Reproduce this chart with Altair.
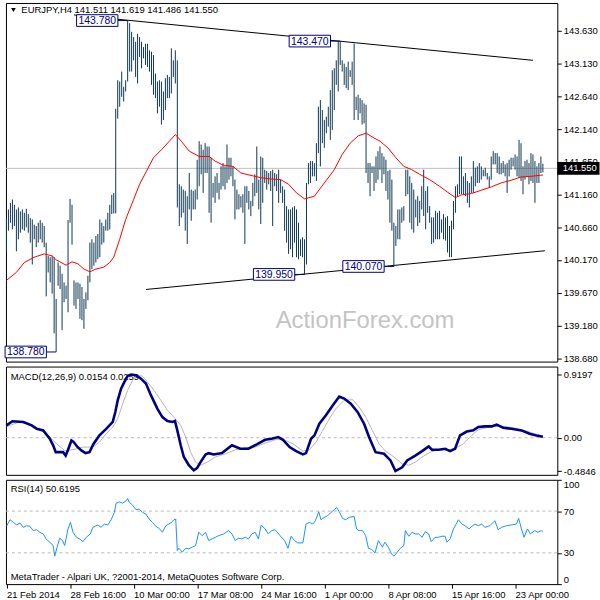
import altair as alt
import pandas as pd

# ---------------- data ----------------
HIGH = [
    140.80, 140.93, 141.03, 141.08, 141.00, 140.93, 140.96, 140.90, 140.93, 140.88,
    140.94, 140.86, 140.80, 140.78, 140.70, 140.68, 140.73, 140.77, 140.73, 140.68,
    140.43, 140.23, 140.21, 140.23, 140.21, 139.58, 140.13, 140.08, 139.96, 139.83,
    139.78, 140.77, 141.09, 141.00, 139.86, 139.83, 139.83, 139.81, 139.76, 139.58,
    139.68, 139.93, 140.43, 140.48, 140.43, 140.53, 140.56, 140.78, 140.73, 140.68,
    140.78, 140.88, 141.00, 141.15, 141.18, 142.45, 142.88, 142.86, 143.01, 142.78,
    142.88, 143.78, 143.74, 143.61, 143.53, 143.46, 143.58, 143.53, 143.46, 143.38,
    143.43, 143.43, 143.33, 143.31, 143.26, 142.98, 142.86, 142.88, 142.86, 142.71,
    142.91, 142.96, 142.93, 143.36, 143.18, 143.33, 143.18, 141.31, 141.28, 141.23,
    141.21, 141.13, 141.48, 141.23, 141.21, 141.23, 141.68, 141.96, 141.91, 141.83,
    141.93, 141.88, 141.88, 141.71, 141.33, 141.43, 141.48, 141.33, 141.58, 141.63,
    141.58, 141.91, 141.71, 141.71, 141.58, 141.38, 141.23, 141.16, 141.13, 141.16,
    141.28, 141.28, 141.21, 141.06, 141.33, 141.46, 141.88, 141.38, 141.73, 141.71,
    141.53, 141.51, 141.48, 141.51, 141.53, 141.48, 141.46, 141.53, 141.38, 141.28,
    141.23, 140.98, 140.93, 140.93, 140.96, 140.98, 140.93, 140.73, 140.48, 140.51,
    140.48, 141.33, 141.63, 141.66, 141.66, 141.63, 141.93, 142.48, 142.58, 142.43,
    142.28, 142.33, 142.48, 142.73, 143.03, 143.06, 143.18, 143.47, 143.47, 143.18,
    143.13, 143.08, 143.16, 143.03, 143.16, 143.43, 142.63, 142.66, 142.61, 142.58,
    142.53, 142.51, 141.63, 141.63, 141.58, 141.58, 141.73, 141.81, 141.88, 141.78,
    141.73, 141.68, 141.51, 141.53, 141.38, 140.73, 140.68, 140.93, 140.93, 140.96,
    140.98, 141.53, 141.53, 141.43, 141.33, 141.23, 141.08, 141.13, 141.06, 141.28,
    141.53, 141.21, 141.28, 140.98, 140.81, 140.81, 140.91, 140.88, 140.91, 140.78,
    140.86, 140.81, 140.83, 140.68, 140.76, 141.06, 141.28, 141.31, 141.73, 141.73,
    141.43, 141.48, 141.36, 141.33, 141.43, 141.66, 141.56, 141.58, 141.63, 141.58,
    141.53, 141.56, 141.48, 141.43, 141.73, 141.81, 141.78, 141.78, 141.73, 141.63,
    141.66, 141.61, 141.63, 141.68, 141.71, 141.71, 141.76, 141.73, 141.98, 141.93,
    141.58, 141.66, 141.68, 141.63, 141.78, 141.76, 141.66, 141.58, 141.63, 141.73, 141.62,
]
LOW = [
    140.30, 140.61, 140.73, 140.63, 140.68, 140.30, 140.48, 140.58, 140.63, 140.61,
    140.66, 140.58, 140.43, 140.10, 140.48, 140.36, 140.43, 140.48, 140.43, 140.36,
    139.62, 139.98, 139.83, 139.66, 139.06, 138.78, 139.78, 139.73, 139.11, 139.53,
    139.58, 139.38, 140.73, 140.40, 139.48, 139.43, 139.58, 139.28, 139.26, 139.13,
    139.43, 139.56, 139.83, 140.03, 140.08, 140.13, 140.18, 140.21, 140.40, 140.43,
    140.61, 140.61, 140.63, 140.86, 140.87, 140.87, 142.30, 142.48, 142.63, 142.56,
    142.71, 142.86, 143.01, 143.01, 143.18, 142.93, 142.83, 143.23, 143.06, 143.21,
    143.11, 143.08, 143.01, 142.81, 142.66, 142.61, 142.38, 142.48, 142.21, 142.28,
    142.43, 142.61, 142.61, 142.68, 142.93, 142.83, 140.96, 140.68, 140.81, 140.88,
    140.61, 140.41, 140.93, 140.76, 140.93, 140.93, 141.08, 141.28, 141.46, 141.18,
    141.48, 141.48, 140.88, 140.73, 141.11, 141.03, 141.18, 141.08, 141.23, 141.28,
    141.23, 141.33, 141.38, 141.43, 141.28, 140.78, 140.93, 140.93, 140.96, 140.88,
    140.41, 141.03, 140.93, 140.83, 140.98, 141.13, 141.18, 140.93, 140.71, 141.03,
    141.33, 141.23, 141.31, 141.21, 140.68, 141.28, 141.21, 141.03, 141.18, 141.03,
    140.61, 140.43, 140.26, 140.33, 140.21, 140.43, 140.21, 140.18, 140.23, 140.21,
    139.95, 140.10, 141.31, 141.33, 141.43, 141.43, 141.36, 141.78, 141.58, 141.93,
    141.86, 142.08, 142.18, 141.98, 142.13, 142.43, 142.81, 142.71, 143.11, 143.01,
    142.81, 142.76, 142.73, 142.93, 142.81, 142.28, 142.43, 142.28, 142.38, 142.21,
    142.23, 141.48, 141.33, 141.13, 141.48, 141.21, 141.33, 141.38, 141.53, 141.33,
    141.46, 141.21, 141.08, 140.73, 140.61, 140.07, 140.38, 140.48, 140.48, 140.73,
    140.76, 141.13, 141.16, 140.73, 140.63, 140.58, 140.81, 140.68, 140.73, 140.93,
    140.83, 140.63, 140.88, 140.73, 140.41, 140.43, 140.48, 140.48, 140.48, 140.58,
    140.48, 140.46, 140.28, 140.21, 140.21, 140.63, 140.88, 141.13, 141.16, 141.16,
    141.16, 141.13, 141.03, 140.96, 141.18, 141.18, 141.28, 141.33, 141.33, 141.38,
    141.43, 141.43, 141.38, 141.26, 141.38, 141.61, 141.61, 141.48, 141.46, 141.46,
    141.48, 141.43, 141.18, 141.43, 141.53, 141.58, 141.53, 141.43, 141.41, 141.36,
    141.16, 141.38, 141.43, 141.31, 141.36, 141.33, 141.03, 141.33, 141.33, 141.48, 141.49,
]
LAST_OHLC = [141.511, 141.619, 141.486, 141.550]

MA_IDX = [0, 5, 9, 14, 19, 23, 25, 30, 33, 36, 39, 42, 45, 49, 52, 54, 57, 60, 64, 67,
          70, 74, 78, 82, 85, 88, 92, 97, 102, 105, 109, 114, 118, 125, 128, 133, 138, 142, 146, 150,
          155, 160, 165, 169, 173, 177, 181, 185, 188, 192, 196, 200, 204, 208, 213, 218, 222, 226, 229, 234,
          239, 244, 249, 254, 259, 264, 270]
MA_VAL = [139.86, 139.98, 140.13, 140.21, 140.26, 140.23, 140.17, 140.09, 140.14, 140.11,
          140.03, 139.99, 140.03, 140.06, 140.13, 140.21, 140.48, 140.78, 141.08, 141.31,
          141.48, 141.71, 141.83, 141.96, 142.06, 141.96, 141.81, 141.73, 141.73, 141.66,
          141.60, 141.58, 141.48, 141.43, 141.41, 141.39, 141.38, 141.31, 141.18, 141.09,
          141.13, 141.33, 141.53, 141.76, 141.93, 142.04, 142.08, 142.01, 141.96, 141.86,
          141.71, 141.58, 141.53, 141.46, 141.38, 141.28, 141.19, 141.11, 141.15, 141.17,
          141.22, 141.27, 141.33, 141.37, 141.42, 141.43, 141.45]

# trendlines: [start bar, start price, end bar, end price]
UPPER_LINE = [34, 143.865, 265, 143.18]
LOWER_LINE = [70.2, 139.723, 271, 140.307]

# price labels and the bar each one points to
LABEL_TEXT = ["143.780", "143.470", "139.950", "140.070", "138.780"]
LABEL_PRICE = [143.78, 143.47, 139.95, 140.07, 138.78]
LABEL_BAR = [61, 168, 150, 195, 25]

MACD_IDX = [0, 3, 8.5, 12.7, 15.2, 18.5, 21.8, 23.5, 24.8, 26.8,
            28.5, 29.8, 31, 32.7, 33.8, 35.5, 37.7, 39.8, 41.8, 43.8,
            46.8, 50.2, 53.5, 54.8, 56, 57.7, 59.3, 61, 62.7, 65.2,
            67.7, 70.2, 72.7, 76, 78.5, 81, 83.5, 84.8, 86, 87.7,
            89.3, 91.8, 94.3, 96, 97.7, 100.2, 101.8, 104.3, 108.5, 113.5,
            117.7, 121.8, 126, 130.2, 133.5, 136.8,
            139.2, 142.5, 145.8, 149.2, 150.8, 153.3, 155, 157.5, 160.8, 164.2,
            167.5, 170, 173.3, 176.7, 180, 182.5, 185.8, 190, 193.3, 195.8,
            199.2, 201.7, 205.8, 209.2, 212.5, 214.2, 217.5, 220.8, 223.3, 225.8,
            228.3, 231.7, 235, 237.5, 240.8, 244.2, 246.7, 250, 254.2, 259.2,
            263.3, 266.7, 270]
MACD_VAL = [0.18, 0.24, 0.23, 0.18, 0.13, 0.107, -0.015, -0.11, -0.21, -0.21,
            -0.21, -0.26, -0.175, -0.04, -0.06, -0.127, -0.185, -0.224, -0.21, -0.09,
            0.034, 0.13, 0.23, 0.375, 0.545, 0.715, 0.81, 0.90, 0.9197, 0.91,
            0.86, 0.79, 0.62, 0.42, 0.30, 0.243, 0.23, 0.243, 0.107, -0.11,
            -0.28, -0.40, -0.475, -0.44, -0.355, -0.243, -0.224, -0.243, -0.224, -0.11,
            -0.16, -0.16, -0.097, -0.03, -0.015, 0.01,
            -0.03, -0.136, -0.195, -0.243, -0.224, -0.015, 0.034, 0.204, 0.326, 0.47,
            0.60, 0.57, 0.496, 0.375, 0.204, 0.01, -0.21, -0.234, -0.33, -0.4846,
            -0.43, -0.33, -0.26, -0.195, -0.127, -0.175, -0.175, -0.16, -0.195, -0.16,
            0.034, 0.09, 0.107, 0.156, 0.165, 0.165, 0.19, 0.146, 0.13, 0.107,
            0.058, 0.034, 0.0154]
SIG_IDX = [0.2, 6.8, 13.5, 20.2, 25.2, 29.3, 33.5, 38.5, 43.5, 46.8,
           50.2, 53.5, 56, 58.5, 61, 63.5, 66, 68.5, 71, 74.3,
           77.7, 81, 84.3, 87.7, 90.2, 92.7, 95.2, 97.7, 101, 105.2,
           110.2, 115.2, 120.2, 125.2, 130.2, 135.2, 138.5,
           144.2, 149.2, 152.5, 155.8, 159.2, 162.5, 165.8, 170, 174.2, 177.5,
           180.8, 184.2, 187.5, 190.8, 195, 199.2, 202.5, 205.8, 209.2, 213.3,
           217.5, 222.5, 225.8, 230, 234.2, 237.5, 241.7, 245.8, 250.8, 255.8,
           260.8, 265.8, 270]
SIG_VAL = [0.165, 0.23, 0.18, 0.058, -0.088, -0.185, -0.175, -0.136, -0.136, -0.063,
           0.058, 0.156, 0.277, 0.496, 0.69, 0.837, 0.91, 0.895, 0.81, 0.69,
           0.545, 0.40, 0.30, 0.18, 0.01, -0.21, -0.355, -0.40, -0.355, -0.28,
           -0.234, -0.175, -0.146, -0.136, -0.078, -0.03, -0.015,
           -0.088, -0.195, -0.175, -0.063, 0.107, 0.277, 0.423, 0.545, 0.555, 0.448,
           0.30, 0.107, -0.088, -0.195, -0.28, -0.38, -0.40, -0.355, -0.28, -0.21,
           -0.175, -0.175, -0.16, -0.088, 0.034, 0.117, 0.146, 0.165, 0.165, 0.14,
           0.107, 0.058, 0.0259]

RSI_IDX = [0.2, 1.8, 3.5, 5.2, 6.8, 8.5, 10.2, 11.8, 13.5, 15.2, 16.8, 18.5, 20.2, 21.8, 23.5,
           24.3, 25.5, 26.8, 28.2, 29.3, 31, 32.2, 33.5, 35.2, 36.8, 38.5, 40.2, 42.2, 43.5, 46,
           47.7, 49.2, 51, 52.7, 54.3, 55.2, 56.8, 58.5, 60.2, 61, 61.8, 63.5, 65.2, 66.8, 68.5,
           70.2, 71.8, 73.5, 75.2, 76.8, 78.5, 80.2, 82.7, 84.3, 85.2, 86, 86.8, 88.5, 90.2, 91.8,
           93.5, 95.2, 96.8, 98.5, 100.2, 101.8, 103.5, 105.2, 106.8, 109.3, 111.8, 113.5, 115.2,
           116.8, 118.5, 120.2, 121.8, 123.5, 125.2, 126.8, 128.2, 130.2, 131.8, 133.5, 135.2, 137.7,
           140, 141.7, 143.3, 145, 146.7, 149.2, 150.8, 152.5, 154.2, 155.5,
           157.2, 158.3, 160, 161.7, 163.3, 165, 166.2, 167.5, 169.2, 170.8,
           172.5, 175, 176.2, 177.5, 179.2, 180.8, 182.2, 183.8, 185.5, 187.2,
           189.2, 190.5, 192.2, 193.8, 195, 196.7, 198.3, 200, 200.8, 202.5,
           204.2, 205.8, 207.5, 209.2, 210.8, 212.5, 213.8, 215.8, 217.5, 219.2,
           220.8, 221.7, 223.3, 225, 227.5, 229.2, 230.8, 232.8, 234.2, 235.8,
           237.5, 239.2, 240.8, 243.3, 245.8, 247.5, 249.2, 251.7, 254.2, 256.7,
           257.8, 259.2, 260.5, 262.2, 263.8, 265.8, 267.5, 269.2, 270]
RSI_VAL = [56, 61.7, 59.2, 56.7, 58.6, 54.4, 56, 55.4, 51.3, 52.2, 49.7, 48.1, 42.7, 40.2, 37,
           26.8, 35.4, 44, 41.7, 37, 52.9, 59.2, 49.7, 44.9, 43.3, 40.8, 44.9, 48.1, 54.4, 56.7,
           54.4, 57.6, 56.7, 61.7, 68.7, 77.6, 78.9, 77.6, 79.8, 82.1, 78.3, 75.7, 71.3, 71.9, 68.7,
           67.1, 62.4, 59.2, 55.4, 53.5, 49.7, 56, 58.6, 61.7, 62.4, 32.2, 34.4, 30.6, 34.4, 33.8,
           35.4, 37, 49.7, 46.5, 49.7, 41.7, 43.3, 44.9, 46.5, 48.1, 51.3, 48.1, 41.7,
           44, 43.3, 44.9, 43.3, 48.1, 49.7, 43.3, 56.7, 52.9, 48.1, 51.3, 52.2, 46.5,
           41.7, 34.4, 45.9, 41.7, 39.5, 39.5, 57.6, 59.2, 57.6, 60.8,
           69.4, 61.7, 64, 65.6, 68.7, 71.3, 73.5, 69.4, 63, 61.7,
           64, 64.9, 52.9, 51.3, 51.3, 46.5, 34.4, 33.2, 30, 41.7,
           35.4, 40.2, 35.4, 29, 26.8, 30.6, 34.4, 37, 51.3, 45.9,
           49.7, 48.1, 48.1, 44.9, 50.3, 48.1, 40.8, 44.9, 44.9, 45.9,
           45.9, 40.2, 43.3, 52.9, 61.7, 57.6, 56, 52.9, 55.4, 57.6,
           56, 57.6, 54.4, 56, 60.8, 52.2, 54.4, 56, 56.7, 57.6,
           63, 52.9, 44.9, 52.9, 48.1, 51.3, 49.7, 51.3, 50.6195]

PRICE_TICKS = [143.630, 143.130, 142.640, 142.140, 141.650, 141.160, 140.660,
               140.170, 139.670, 139.180, 138.680]
MACD_TICKS = [0.9197, 0.0, -0.4846]
RSI_TICKS = [0, 30, 70, 100]
RSI_LEVELS = [30, 70]
X_TICKS = [0, 32, 64, 96, 128, 160, 192, 224, 256]
X_LABELS = ["21 Feb 2014", "28 Feb 16:00", "10 Mar 00:00", "17 Mar 08:00",
            "24 Mar 16:00", "1 Apr 00:00", "8 Apr 08:00", "15 Apr 16:00", "23 Apr 00:00"]

# ---------------- styling ----------------
FONT = "Liberation Sans"
FS = 9.5
BAR_COLOR = "#0e3754"
NAVY = "#000080"
W = 555
H_MAIN, H_MACD, H_RSI = 361, 109, 105

bars = pd.DataFrame({"i": list(range(len(HIGH))), "high": HIGH, "low": LOW})
ma = pd.DataFrame({"i": MA_IDX, "v": MA_VAL})
tl = pd.DataFrame([UPPER_LINE, LOWER_LINE], columns=["i", "p", "i2", "p2"])
half_w, half_h, off = 10.4, 0.088, 15.3
lab = pd.DataFrame({
    "text": LABEL_TEXT,
    "p": LABEL_PRICE,
    "bar": LABEL_BAR,
})
lab["cx"] = lab["bar"] - off
lab["x1"] = lab["cx"] - half_w
lab["x2"] = lab["cx"] + half_w
lab["y1"] = lab["p"] - half_h
lab["y2"] = lab["p"] + half_h
close_df = pd.DataFrame({"p": [LAST_OHLC[3]], "t": [f"{LAST_OHLC[3]:.3f}"],
                         "y1": [LAST_OHLC[3] - 0.095], "y2": [LAST_OHLC[3] + 0.095]})

XS = alt.Scale(domain=[-0.25, 277.25], nice=False, zero=False)
PS = alt.Scale(domain=[138.635, 144.045], nice=False, zero=False)
MS = alt.Scale(domain=[-0.540, 1.036], nice=False, zero=False)
RS = alt.Scale(domain=[0, 100], nice=False, zero=False)

axis_common = dict(title=None, grid=False, domain=False, tickSize=4, tickColor="black",
                   labelColor="black", labelFont=FONT, labelFontSize=FS)
price_axis = alt.Axis(orient="right", values=PRICE_TICKS, format=".3f", labelPadding=2, **axis_common)
macd_axis = alt.Axis(orient="right", values=MACD_TICKS, labelPadding=2,
                     labelExpr="datum.value == 0 ? '0.00' : (datum.value < 0 ? '-' + format(-datum.value, '.4f') : format(datum.value, '.4f'))",
                     **axis_common)
rsi_axis = alt.Axis(orient="right", values=RSI_TICKS, format="d", labelPadding=2, labelFlush=True, **axis_common)
x_expr = "[" + ",".join("'" + s + "'" for s in X_LABELS) + "][round(datum.value / 32)]"
x_axis = alt.Axis(orient="bottom", values=X_TICKS, labelExpr=x_expr, labelAlign="left",
                  labelFlush=False, labelOverlap=False, labelPadding=1, **axis_common)

XN = alt.X("i:Q", scale=XS, axis=None)

def PY(field):
    return alt.Y(field, scale=PS, axis=price_axis)

# ---------------- main price panel ----------------
watermark = alt.Chart(pd.DataFrame({"t": ["ActionForex.com"]})).mark_text(
    font=FONT, fontSize=24, color="#c4c4c4", align="center", baseline="alphabetic"
).encode(x=alt.value(361.5), y=alt.value(327), text="t:N")

trend = alt.Chart(tl).mark_rule(color="black", strokeWidth=1).encode(
    x=XN, y=PY("p:Q"), x2="i2:Q", y2="p2:Q")

close_line = alt.Chart(close_df).mark_rule(color="#c0c0c0", strokeWidth=1).encode(y=PY("p:Q"))

bar_marks = alt.Chart(bars).mark_rule(color=BAR_COLOR, strokeWidth=1).encode(
    x=XN, y=PY("low:Q"), y2="high:Q")

ma_line = alt.Chart(ma).mark_line(color="#ff0000", strokeWidth=1).encode(x=XN, y=PY("v:Q"))

leaders = alt.Chart(lab).mark_rule(color=NAVY, strokeWidth=1).encode(
    x=alt.X("x2:Q", scale=XS, axis=None), x2="bar:Q", y=PY("p:Q"))
boxes = alt.Chart(lab).mark_rect(fill="white", stroke=NAVY, strokeWidth=1).encode(
    x=alt.X("x1:Q", scale=XS, axis=None), x2="x2:Q", y=PY("y1:Q"), y2="y2:Q")
box_text = alt.Chart(lab).mark_text(font=FONT, fontSize=10.5, color=NAVY, align="center",
                                    baseline="middle", dy=0.5).encode(
    x=alt.X("cx:Q", scale=XS, axis=None), y=PY("p:Q"), text="text:N")

close_box = alt.Chart(close_df).mark_rect(color="black").encode(
    x=alt.value(555), x2=alt.value(597.5), y=PY("y1:Q"), y2="y2:Q")
close_text = alt.Chart(close_df).mark_text(font=FONT, fontSize=FS, color="white", align="left",
                                           baseline="middle").encode(
    x=alt.value(560.5), y=PY("p:Q"), text="t:N")

header_txt = "EURJPY,H4  " + " ".join(f"{v:.3f}" for v in LAST_OHLC)
header = alt.Chart(pd.DataFrame({"t": [header_txt]})).mark_text(
    font=FONT, fontSize=FS, color="black", align="left", baseline="middle"
).encode(x=alt.value(15.5), y=alt.value(7.5), text="t:N")
tri = alt.Chart(pd.DataFrame({"t": ["v"]})).mark_point(
    shape="triangle-down", filled=True, color="black", size=22, opacity=1
).encode(x=alt.value(7.5), y=alt.value(7))

main = alt.layer(watermark, trend, close_line, bar_marks, ma_line, leaders, boxes, box_text,
                 close_box, close_text, header, tri).properties(width=W, height=H_MAIN)

# ---------------- MACD panel ----------------
macd_df = pd.DataFrame({"i": MACD_IDX, "v": MACD_VAL})
sig_df = pd.DataFrame({"i": SIG_IDX, "v": SIG_VAL})
zero = alt.Chart(pd.DataFrame({"v": [0.0]})).mark_rule(
    color="#b8b8b8", strokeDash=[3, 3], strokeWidth=1).encode(
    y=alt.Y("v:Q", scale=MS, axis=macd_axis))
macd_label = alt.Chart(pd.DataFrame({"t": [f"MACD(12,26,9) {MACD_VAL[-1]:.4f} {SIG_VAL[-1]:.4f}"]})).mark_text(
    font=FONT, fontSize=FS, color="black", align="left", baseline="middle"
).encode(x=alt.value(4.8), y=alt.value(10.5), text="t:N")
sig_line = alt.Chart(sig_df).mark_line(color="#b4b4b4", strokeWidth=1).encode(
    x=XN, y=alt.Y("v:Q", scale=MS, axis=macd_axis))
macd_line = alt.Chart(macd_df).mark_line(color=NAVY, strokeWidth=2.6).encode(
    x=XN, y=alt.Y("v:Q", scale=MS, axis=macd_axis))
macd = alt.layer(zero, macd_label, sig_line, macd_line).properties(width=W, height=H_MACD)

# ---------------- RSI panel ----------------
rsi_df = pd.DataFrame({"i": RSI_IDX, "v": RSI_VAL})
levels = alt.Chart(pd.DataFrame({"v": RSI_LEVELS})).mark_rule(
    color="#b8b8b8", strokeDash=[3, 3], strokeWidth=1).encode(
    y=alt.Y("v:Q", scale=RS, axis=rsi_axis))
rsi_label = alt.Chart(pd.DataFrame({"t": [f"RSI(14) {RSI_VAL[-1]:.4f}"]})).mark_text(
    font=FONT, fontSize=FS, color="black", align="left", baseline="middle"
).encode(x=alt.value(4.8), y=alt.value(9.5), text="t:N")
footer = alt.Chart(pd.DataFrame({"t": ["MetaTrader - Alpari UK, ?2001-2014, MetaQuotes Software Corp."]})).mark_text(
    font=FONT, fontSize=FS, color="black", align="left", baseline="middle"
).encode(x=alt.value(4.8), y=alt.value(98), text="t:N")
rsi_line = alt.Chart(rsi_df).mark_line(color="#1e90ff", strokeWidth=1).encode(
    x=alt.X("i:Q", scale=XS, axis=x_axis), y=alt.Y("v:Q", scale=RS, axis=rsi_axis))
rsi = alt.layer(levels, rsi_label, footer, rsi_line).properties(width=W, height=H_RSI)

chart = alt.vconcat(main, macd, rsi, spacing=2).properties(
    padding={"left": 0, "top": 0, "right": 0, "bottom": 0},
    background="white",
).configure_view(stroke="black", strokeWidth=1)

chart.save("out.html", embed_options={"renderer": "svg", "actions": False})
